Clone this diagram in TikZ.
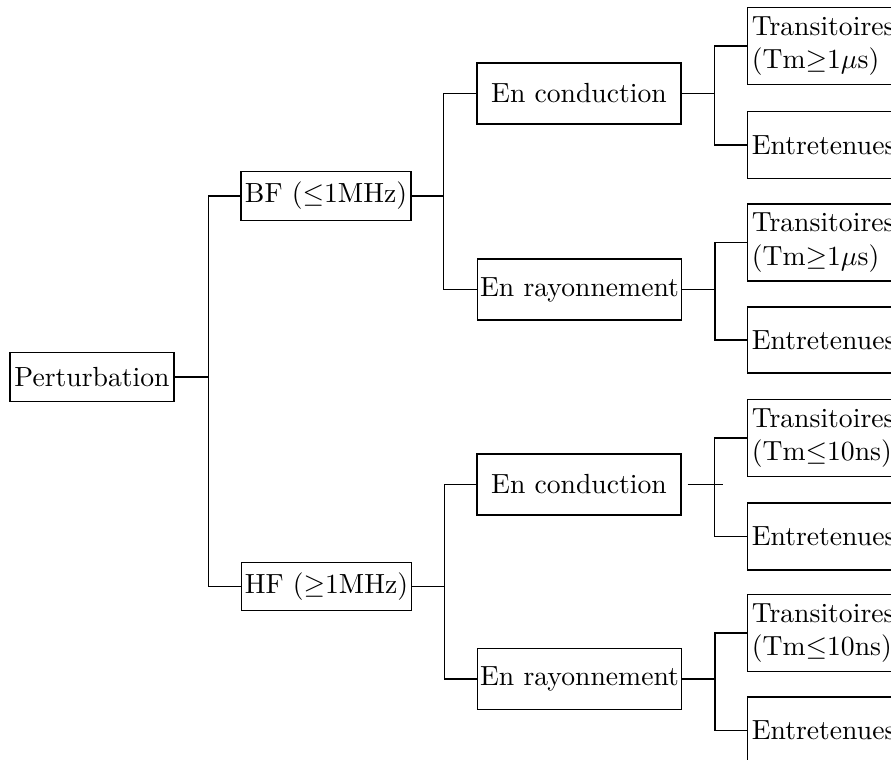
\documentclass[tikz,border=0pt]{standalone}
\usepackage{tikz}

\begin{document}
\begin{tikzpicture}[x=0.3614pt, y=-0.3614pt, line width=0.5pt,
		boite/.style={draw, inner sep=0.5pt, minimum height=17.5pt},
		mode/.style={draw, inner sep=0.5pt, minimum width=73.7pt, minimum height=22pt},
		forme/.style={draw, anchor=west, align=left, inner xsep=1.5pt, text width=62pt}]
			%%%%% START %%%%%
			\clip (0, 0) rectangle (891, 760);
			
			\node[boite, minimum width=59.3pt] (pert) at (92, 377) {Perturbation};
			
			\node[boite, minimum width=61.4pt] (bf) at (326, 196) {BF ($\leq$1MHz)};
			\node[boite, minimum width=61.6pt] (hf) at (326.5, 586.5) {HF ($\geq$1MHz)};
			
			\node[mode] (cbf) at (579, 93.5) {En conduction};
			\node[mode] (rbf) at (579.5, 289.5) {En rayonnement};
			\node[mode] (chf) at (579, 484.5) {En conduction};
			\node[mode] (rhf) at (579.5, 679) {En rayonnement};
			
			\node[forme, minimum height=26.7pt] (tcbf) at (747, 46) {Transitoires\\(Tm$\geq$1$\mu$s)};
			\node[forme, minimum height=24.4pt] (ecbf) at (747, 145) {Entretenues};
			\node[forme, minimum height=27pt] (trbf) at (747, 242.5) {Transitoires\\(Tm$\geq$1$\mu$s)};
			\node[forme, minimum height=23.8pt] (erbf) at (747, 340) {Entretenues};
			\node[forme, minimum height=26.7pt] (tchf) at (747, 438) {Transitoires\\(Tm$\leq$10ns)};
			\node[forme, minimum height=24.2pt] (echf) at (747, 536.5) {Entretenues};
			\node[forme, minimum height=26.7pt] (trhf) at (747, 633) {Transitoires\\(Tm$\leq$10ns)};
			\node[forme, minimum height=24.2pt] (erhf) at (747, 730.5) {Entretenues};
			
			\draw (pert.east) -- ++(34, 0) coordinate (j0);
			\draw (bf.west) -| (j0) |- (hf.west);
			
			\draw (bf.east) -- ++(32, 0) coordinate (jbf);
			\draw (cbf.west) -| (jbf) |- (rbf.west);
			\draw (hf.east) -- ++(32, 0) coordinate (jhf);
			\draw (chf.west) -| (jhf) |- (rhf.west);
			
			\draw (cbf.east) -- ++(33, 0) coordinate (j1);
			\draw (tcbf.west) -| (j1) |- (ecbf.west);
			\draw (rbf.east) -- ++(33, 0) coordinate (j2);
			\draw (trbf.west) -| (j2) |- (erbf.west);
			\draw ([xshift=6*0.3614pt]chf.east) -- ([xshift=41*0.3614pt]chf.east);
			\coordinate (j3) at ([xshift=33*0.3614pt]chf.east);
			\draw (tchf.west) -| (j3) |- (echf.west);
			\draw (rhf.east) -- ++(33, 0) coordinate (j4);
			\draw (trhf.west) -| (j4) |- (erhf.west);
			
			%%%%% END %%%%%
		\end{tikzpicture}
\end{document}
